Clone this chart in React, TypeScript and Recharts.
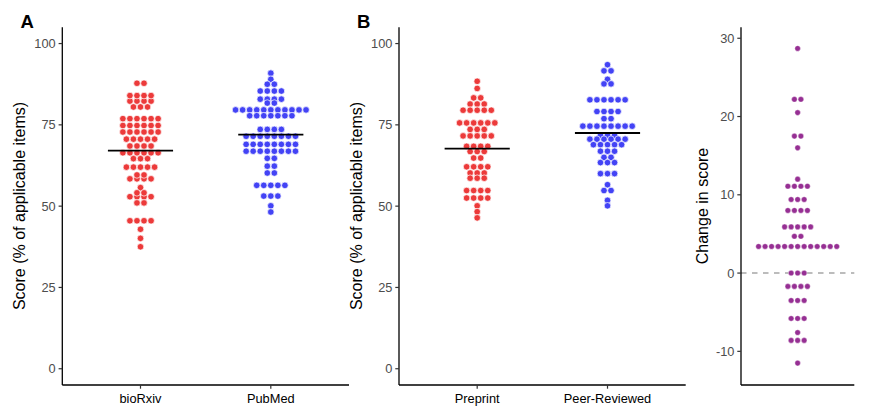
import { ScatterChart, Scatter, XAxis, YAxis, ReferenceLine } from 'recharts';

const FONT = '"Liberation Sans", Arial, sans-serif';

const SCORE_TICKS = [0, 25, 50, 75, 100];
const CHANGE_TICKS = [-10, 0, 10, 20, 30];
const CATS_A = ['bioRxiv', 'PubMed'];
const CATS_B = ['Preprint', 'Peer-Reviewed'];

// beeswarm rows: binned score and number of dots in that row
const BIORXIV_VALUES = [82.3, 87.8, 84.0, 80.5, 76.9, 74.8, 72.8, 70.6, 68.5, 66.4, 64.6, 62.0, 58.4, 59.6, 55.7, 52.9, 54.1, 51.0, 45.5, 42.9, 40.1, 37.5];
const BIORXIV_COUNTS = [4, 2, 4, 3, 6, 6, 6, 5, 4, 6, 3, 5, 4, 2, 1, 4, 2, 2, 4, 1, 1, 1];
const PUBMED_VALUES = [90.9, 89.0, 87.5, 85.4, 82.9, 81.7, 79.6, 77.8, 73.6, 71.5, 69.0, 66.9, 64.7, 62.3, 60.2, 56.4, 53.1, 50.1, 48.2];
const PUBMED_COUNTS = [1, 1, 2, 4, 4, 2, 11, 7, 4, 8, 8, 8, 2, 2, 2, 5, 3, 1, 1];

const PREPRINT_VALUES = [88.4, 86.2, 83.3, 81.4, 79.5, 75.6, 73.6, 71.6, 68.4, 66.8, 64.8, 62.1, 60.2, 58.6, 54.8, 52.5, 50.1, 48.3, 46.4];
const PREPRINT_COUNTS = [1, 1, 2, 3, 5, 6, 3, 5, 4, 3, 2, 4, 3, 3, 4, 4, 1, 1, 1];
const PEER_VALUES = [93.5, 91.6, 89.0, 87.6, 82.7, 79.1, 76.9, 74.6, 71.8, 70.6, 68.9, 66.9, 65.0, 63.4, 60.0, 56.6, 54.8, 51.8, 50.1];
const PEER_COUNTS = [1, 2, 1, 2, 6, 4, 2, 8, 3, 6, 5, 3, 2, 3, 3, 1, 2, 1, 1];

const CHANGE_VALUES = [28.7, 22.2, 20.5, 17.5, 16.0, 12.0, 11.1, 9.4, 8.0, 5.9, 4.7, 3.4, 0.0, -1.7, -3.5, -5.8, -7.6, -8.6, -11.5];
const CHANGE_COUNTS = [1, 2, 1, 2, 1, 1, 4, 3, 4, 5, 2, 13, 3, 4, 3, 3, 1, 3, 1];

const MEANS_A = [67.1, 72.0];
const MEANS_B = [67.7, 72.5];

const RED = '#ec3a3a';
const BLUE = '#4343f5';
const PURPLE = '#962f93';

// spread each row sideways around its category
function swarm(values: number[], counts: number[], center: number, step: number) {
    const pts: { x: number; y: number }[] = [];
    values.forEach((v, i) => {
        const n = counts[i];
        for (let k = 0; k < n; k++) pts.push({ x: center + (k - (n - 1) / 2) * step, y: v });
    });
    return pts;
}

function meanSeg(center: number, m: number) {
    return [{ x: center - 0.25, y: m }, { x: center + 0.25, y: m }];
}

const dot = (fill: string, r: number, sw: number) => (props: any) => (
    <circle cx={props.cx} cy={props.cy} r={r} fill={fill} stroke="#fff" strokeWidth={sw} />
);
const noShape = () => <g />;

const STEP_AB = 7.07 / 130.7;
const STEP_C = 6.5 / 94.2;

const axisLine = { stroke: '#000', strokeWidth: 1.3 };
const tickLine = { stroke: '#333', strokeWidth: 1.2 };
const yTick = { fill: '#4d4d4d', fontSize: 12.8, fontFamily: FONT };
const xTick = { fill: '#000', fontSize: 12.8, fontFamily: FONT };

function PairPanel({ cats, leftVals, leftCounts, rightVals, rightCounts, leftColor, rightColor, means, width, yWidth, right }: any) {
    return (
        <ScatterChart width={width} height={414} margin={{ top: 27.3, right, bottom: 0, left: 0 }}>
            <XAxis type="number" dataKey="x" domain={[0.4, 2.6]} ticks={[1, 2]} allowDataOverflow
                tickFormatter={(v: number) => cats[v - 1]} height={29} tickSize={3.7} tickMargin={5.4}
                axisLine={axisLine} tickLine={tickLine} tick={xTick} />
            <YAxis type="number" dataKey="y" domain={[-5, 105]} ticks={SCORE_TICKS} allowDataOverflow
                width={yWidth} tickSize={3.7} tickMargin={2.9} axisLine={axisLine} tickLine={tickLine} tick={yTick} />
            <Scatter data={swarm(leftVals, leftCounts, 1, STEP_AB)} shape={dot(leftColor, 3.3, 0.7)} isAnimationActive={false} />
            <Scatter data={swarm(rightVals, rightCounts, 2, STEP_AB)} shape={dot(rightColor, 3.3, 0.7)} isAnimationActive={false} />
            <Scatter data={meanSeg(1, means[0])} line={{ stroke: '#000', strokeWidth: 1.8 }} shape={noShape} isAnimationActive={false} />
            <Scatter data={meanSeg(2, means[1])} line={{ stroke: '#000', strokeWidth: 1.8 }} shape={noShape} isAnimationActive={false} />
        </ScatterChart>
    );
}

export default function App() {
    return (
        <div style={{ position: 'absolute', left: 0, top: 0, width: 873, height: 414, background: '#fff', fontFamily: FONT }}>
            <div style={{ position: 'absolute', left: 0, top: 0 }}>
                <PairPanel cats={CATS_A} leftVals={BIORXIV_VALUES} leftCounts={BIORXIV_COUNTS}
                    rightVals={PUBMED_VALUES} rightCounts={PUBMED_COUNTS} leftColor={RED} rightColor={BLUE}
                    means={MEANS_A} width={360} yWidth={62.3} right={11} />
            </div>
            <div style={{ position: 'absolute', left: 360, top: 0 }}>
                <PairPanel cats={CATS_B} leftVals={PREPRINT_VALUES} leftCounts={PREPRINT_COUNTS}
                    rightVals={PEER_VALUES} rightCounts={PEER_COUNTS} leftColor={RED} rightColor={BLUE}
                    means={MEANS_B} width={335} yWidth={39} right={9.3} />
            </div>
            <div style={{ position: 'absolute', left: 700, top: 0 }}>
                <ScatterChart width={173} height={414} margin={{ top: 27.3, right: 18.7, bottom: 0, left: 0 }}>
                    <XAxis type="number" dataKey="x" domain={[0.4, 1.6]} ticks={[1]} tick={false} tickLine={false}
                        height={29} axisLine={axisLine} allowDataOverflow />
                    <YAxis type="number" dataKey="y" domain={[-14.3, 31.4]} ticks={CHANGE_TICKS} allowDataOverflow
                        width={41} tickSize={3.7} tickMargin={2.9} axisLine={axisLine} tickLine={tickLine} tick={yTick} />
                    <Scatter data={swarm(CHANGE_VALUES, CHANGE_COUNTS, 1, STEP_C)} shape={dot(PURPLE, 2.8, 0.4)} isAnimationActive={false} />
                    <ReferenceLine y={0} stroke="#7a7a7a" strokeWidth={1.1} strokeDasharray="5.5 5.5" />
                </ScatterChart>
            </div>
            <svg width={873} height={414} style={{ position: 'absolute', left: 0, top: 0, pointerEvents: 'none' }}>
                <text x={20.5} y={28} fontSize={18.5} fontWeight="bold" fontFamily={FONT}>A</text>
                <text x={357} y={28} fontSize={18.5} fontWeight="bold" fontFamily={FONT}>B</text>
                <text transform="translate(24.5,206) rotate(-90)" textAnchor="middle" fontSize={16} fontFamily={FONT}>Score (% of applicable items)</text>
                <text transform="translate(361.5,206) rotate(-90)" textAnchor="middle" fontSize={16} fontFamily={FONT}>Score (% of applicable items)</text>
                <text transform="translate(707.5,206) rotate(-90)" textAnchor="middle" fontSize={16} fontFamily={FONT}>Change in score</text>
            </svg>
        </div>
    );
}
